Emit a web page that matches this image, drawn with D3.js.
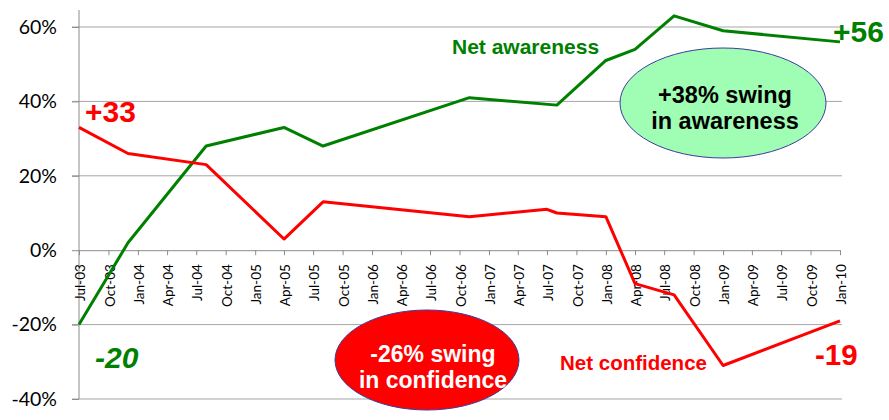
<!DOCTYPE html>
<html>
<head>
<meta charset="utf-8">
<script src="https://cdn.jsdelivr.net/npm/d3@7"></script>
<style>
	body { margin: 0; background: #fff; }
	.tick text { font-family: Lato, "Open Sans", sans-serif; fill: #000; }
	.note { font-family: "Liberation Sans", Arial, sans-serif; font-weight: bold; }
</style>
</head>
<body>
<div id="chart"></div>
<script>

// values (percent)
var awarenessDates = ["2003-07", "2003-12", "2004-08", "2005-04", "2005-08", "2006-11", "2007-08", "2008-01", "2008-04", "2008-08", "2009-01", "2010-01"];
var awarenessValues = [-20, 2, 28, 33, 28, 41, 39, 51, 54, 63, 59, 56];

var confidenceDates = ["2003-07", "2003-12", "2004-08", "2005-04", "2005-08", "2006-11", "2007-07", "2007-08", "2008-01", "2008-04", "2008-08", "2009-01", "2010-01"];
var confidenceValues = [33, 26, 23, 3, 13, 9, 11, 10, 9, -9, -12, -31, -19];

var yTicks = [-40, -20, 0, 20, 40, 60];

// characteristics for svg element
var width = 889;
var height = 420;
var leftMargin = 79;
var rightEdge = 840;

var parseMonth = d3.timeParse("%Y-%m");

var x = d3.scaleTime()
	.domain([parseMonth("2003-07"), parseMonth("2010-01")])
	.range([leftMargin, rightEdge]);
var y = d3.scaleLinear()
	.domain([-40, 60])
	.range([399, 27]);

var svg = d3.select("#chart")
	.append("svg")
	.attr("width", width)
	.attr("height", height);

// horizontal gridlines
svg.selectAll(".grid")
	.data(yTicks.filter(function(d){ return d != 0; }))
	.enter()
	.append("line")
	.attr("class", "grid")
	.attr("x1", leftMargin - 7)
	.attr("x2", rightEdge + 2)
	.attr("y1", function(d){ return y(d); })
	.attr("y2", function(d){ return y(d); })
	.style("stroke", "#a6a6a6")
	.style("stroke-width", 1);

// y axis
var yAxis = d3.axisLeft(y)
	.tickValues(yTicks)
	.tickSize(7)
	.tickPadding(15)
	.tickFormat(function(d){ return d + "%"; });
var gy = svg.append("g")
	.attr("transform", "translate(" + leftMargin + ",0)")
	.call(yAxis);
gy.select(".domain").remove();
gy.append("line")
	.attr("y1", 10)
	.attr("y2", y(-40))
	.style("stroke", "#8c8c8c");
gy.selectAll(".tick line").style("stroke", "#8c8c8c");
gy.selectAll(".tick text").style("font-size", "19.5px");

// x axis on the zero line
var xAxis = d3.axisBottom(x)
	.ticks(d3.timeMonth.every(3))
	.tickSize(5)
	.tickSizeOuter(0)
	.tickFormat(d3.timeFormat("%b-%y"));
var gx = svg.append("g")
	.attr("transform", "translate(0," + y(0) + ")")
	.call(xAxis);
gx.select(".domain").style("stroke", "#8c8c8c");
gx.selectAll(".tick line").style("stroke", "#8c8c8c");
gx.selectAll(".tick text")
	.style("font-size", "13.5px")
	.style("text-anchor", "end")
	.attr("transform", "rotate(-90)")
	.attr("x", -14)
	.attr("y", 1)
	.attr("dy", "0.35em");

// lines
var line = d3.line()
	.x(function(d){ return x(parseMonth(d[0])); })
	.y(function(d){ return y(d[1]); });

svg.append("path")
	.datum(d3.zip(awarenessDates, awarenessValues))
	.attr("d", line)
	.style("fill", "none")
	.style("stroke", "#008000")
	.style("stroke-width", 3)
	.style("stroke-linejoin", "round");

svg.append("path")
	.datum(d3.zip(confidenceDates, confidenceValues))
	.attr("d", line)
	.style("fill", "none")
	.style("stroke", "#ff0000")
	.style("stroke-width", 3)
	.style("stroke-linejoin", "round");

// ellipses with swing notes
svg.append("ellipse")
	.attr("cx", 723).attr("cy", 103).attr("rx", 103).attr("ry", 55)
	.style("fill", "#a0fdb4")
	.style("stroke", "#3c3ca0")
	.style("stroke-width", 1);
svg.append("text").attr("class", "note")
	.attr("x", 725).attr("y", 103)
	.style("text-anchor", "middle").style("font-size", "23.5px")
	.text("+38% swing");
svg.append("text").attr("class", "note")
	.attr("x", 725).attr("y", 129)
	.style("text-anchor", "middle").style("font-size", "23.5px")
	.text("in awareness");

svg.append("ellipse")
	.attr("cx", 427).attr("cy", 360).attr("rx", 92).attr("ry", 50)
	.style("fill", "#ff0000")
	.style("stroke", "#3c3ca0")
	.style("stroke-width", 1);
svg.append("text").attr("class", "note")
	.attr("x", 433).attr("y", 362)
	.style("text-anchor", "middle").style("font-size", "23px")
	.style("fill", "#fff")
	.text("-26% swing");
svg.append("text").attr("class", "note")
	.attr("x", 433).attr("y", 388)
	.style("text-anchor", "middle").style("font-size", "23px")
	.style("fill", "#fff")
	.text("in confidence");

// series labels
svg.append("text").attr("class", "note")
	.attr("x", 452).attr("y", 54)
	.style("font-size", "21px").style("fill", "#008000")
	.text("Net awareness");
svg.append("text").attr("class", "note")
	.attr("x", 560).attr("y", 370)
	.style("font-size", "20.5px").style("fill", "#ff0000")
	.text("Net confidence");

// start and end values
svg.append("text").attr("class", "note")
	.attr("x", 85).attr("y", 122)
	.style("font-size", "30px").style("fill", "#ff0000")
	.text("+33");
svg.append("text").attr("class", "note")
	.attr("x", 833).attr("y", 42)
	.style("font-size", "30px").style("fill", "#008000")
	.text("+56");
svg.append("text").attr("class", "note")
	.attr("x", 95).attr("y", 368)
	.style("font-size", "30px").style("font-style", "italic").style("fill", "#008000")
	.text("-20");
svg.append("text").attr("class", "note")
	.attr("x", 815).attr("y", 365)
	.style("font-size", "29.5px").style("fill", "#ff0000")
	.text("-19");

</script>
</body>
</html>
